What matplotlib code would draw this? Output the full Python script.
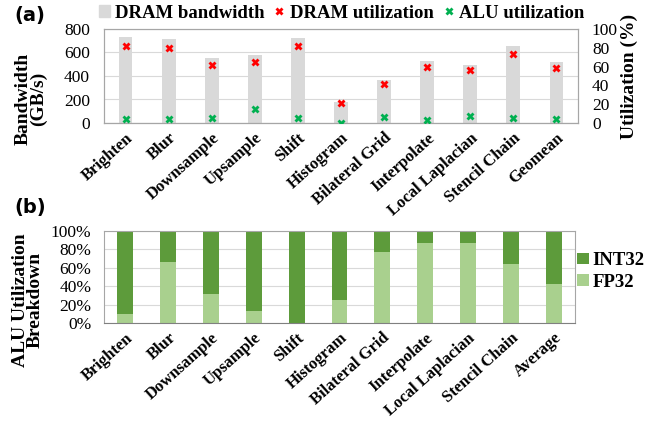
import numpy as np
import matplotlib
matplotlib.use('Agg')
import matplotlib.pyplot as plt
from matplotlib.lines import Line2D
from matplotlib.patches import Patch

# Data
apps_a = ['Brighten', 'Blur', 'Downsample', 'Upsample', 'Shift', 'Histogram',
          'Bilateral Grid', 'Interpolate', 'Local Laplacian', 'Stencil Chain',
          'Geomean']
bandwidth = [735, 712, 550, 575, 727, 180, 365, 525, 490, 655, 515]
dram_util = [82, 80, 62, 65, 82, 21, 42, 60, 56, 73, 58]
alu_util = [4, 4, 5, 15, 5, 0.5, 6, 3, 7, 5, 4]

apps_b = apps_a[:-1] + ['Average']
fp32 = [10, 66, 32, 13, 0, 25, 77, 87, 87, 64, 42]
int32 = [100 - v for v in fp32]

serif = 'Liberation Serif'
grey = '#d9d9d9'
dark_green = '#5d9b3b'
light_green = '#a9d08e'
grid_c = '#d9d9d9'

fig = plt.figure(figsize=(6.48, 4.29), dpi=100)

# (a)
ax1 = fig.add_axes([104 / 648, 1 - 123 / 429, 474 / 648, 94 / 429])
x = np.arange(len(apps_a))
ax1.bar(x, bandwidth, width=0.32, color=grey, zorder=2)
ax1.set_ylim(0, 800)
ax1.set_xlim(-0.5, len(apps_a) - 0.5)
ax1.set_yticks([0, 200, 400, 600, 800])
ax1.yaxis.grid(True, color=grid_c, lw=0.8, zorder=0)
ax1.set_axisbelow(True)
ax2 = ax1.twinx()
ax2.plot(x, dram_util, 'X', color='#ff0000', ms=6, mec='none', zorder=3)
ax2.plot(x, alu_util, 'X', color='#00b050', ms=6, mec='none', zorder=3)
ax2.set_ylim(0, 100)
ax2.set_yticks(range(0, 101, 20))
for ax in (ax1, ax2):
    for s in ax.spines.values():
        s.set_color('#a6a6a6')
    ax.tick_params(length=0, labelsize=12.5)
    for t in ax.get_yticklabels():
        t.set_fontfamily(serif)
ax1.tick_params(axis='y', pad=10)
ax2.tick_params(axis='y', pad=10)
ax1.tick_params(axis='x', pad=5)
ax1.spines['bottom'].set_color('#808080')
ax1.set_xticks(x)
ax1.set_xticklabels(apps_a, rotation=42, ha='right', rotation_mode='anchor',
                    fontfamily=serif, fontweight='bold', fontsize=12)
ax1.set_ylabel('Bandwidth\n(GB/s)', fontfamily=serif, fontweight='bold',
               fontsize=14, linespacing=0.85)
ax1.yaxis.set_label_coords(-0.12, 0.26)
ax2.set_ylabel('Utilization (%)', fontfamily=serif, fontweight='bold',
               fontsize=14)
ax2.yaxis.set_label_coords(1.09, 0.5)

handles = [Patch(color=grey),
           Line2D([], [], ls='none', marker='X', color='#ff0000', mec='none', ms=6),
           Line2D([], [], ls='none', marker='X', color='#00b050', mec='none', ms=6)]
fig.legend(handles, ['DRAM bandwidth', 'DRAM utilization', 'ALU utilization'],
           loc='center', bbox_to_anchor=(0.527, 1 - 13 / 429), ncol=3, frameon=False,
           prop={'family': serif, 'weight': 'bold', 'size': 13.5},
           handlelength=0.6, handleheight=0.6, handletextpad=0.25,
           columnspacing=0.5, borderpad=0)
fig.text(14 / 648, 1 - 16 / 429, '(a)', fontsize=14, fontweight='bold',
         va='center', ha='left')

# (b)
ax3 = fig.add_axes([104 / 648, 1 - 323 / 429, 471 / 648, 92 / 429])
xb = np.arange(len(apps_b))
ax3.bar(xb, fp32, width=0.37, color=light_green, label='FP32', zorder=2)
ax3.bar(xb, int32, width=0.37, bottom=fp32, color=dark_green, label='INT32',
        zorder=2)
ax3.set_ylim(0, 100)
ax3.set_xlim(-0.5, len(apps_b) - 0.5)
ax3.set_yticks(range(0, 101, 20))
ax3.set_yticklabels([f'{v}%' for v in range(0, 101, 20)], fontfamily=serif)
ax3.yaxis.grid(True, color=grid_c, lw=0.8, zorder=0)
ax3.set_axisbelow(True)
for s in ax3.spines.values():
    s.set_color('#a6a6a6')
ax3.spines['bottom'].set_color('#808080')
ax3.tick_params(length=0, labelsize=12.5)
ax3.tick_params(axis='y', pad=9)
ax3.tick_params(axis='x', pad=5)
ax3.set_xticks(xb)
ax3.set_xticklabels(apps_b, rotation=42, ha='right', rotation_mode='anchor',
                    fontfamily=serif, fontweight='bold', fontsize=12)
ax3.set_ylabel('ALU Utilization\nBreakdown', fontfamily=serif, fontweight='bold',
               fontsize=14, linespacing=0.85)
ax3.yaxis.set_label_coords(-0.128, 0.25)
h, l = ax3.get_legend_handles_labels()
ax3.legend(h[::-1], l[::-1], loc='center left', bbox_to_anchor=(1.005, 0.56),
           frameon=False, prop={'family': serif, 'weight': 'bold', 'size': 13.5},
           handlelength=0.6, handleheight=0.6, handletextpad=0.2,
           labelspacing=0.25, borderpad=0, borderaxespad=0)
fig.text(14 / 648, 1 - 207 / 429, '(b)', fontsize=14, fontweight='bold',
         va='center', ha='left')

fig.savefig('out.png', dpi=100)
